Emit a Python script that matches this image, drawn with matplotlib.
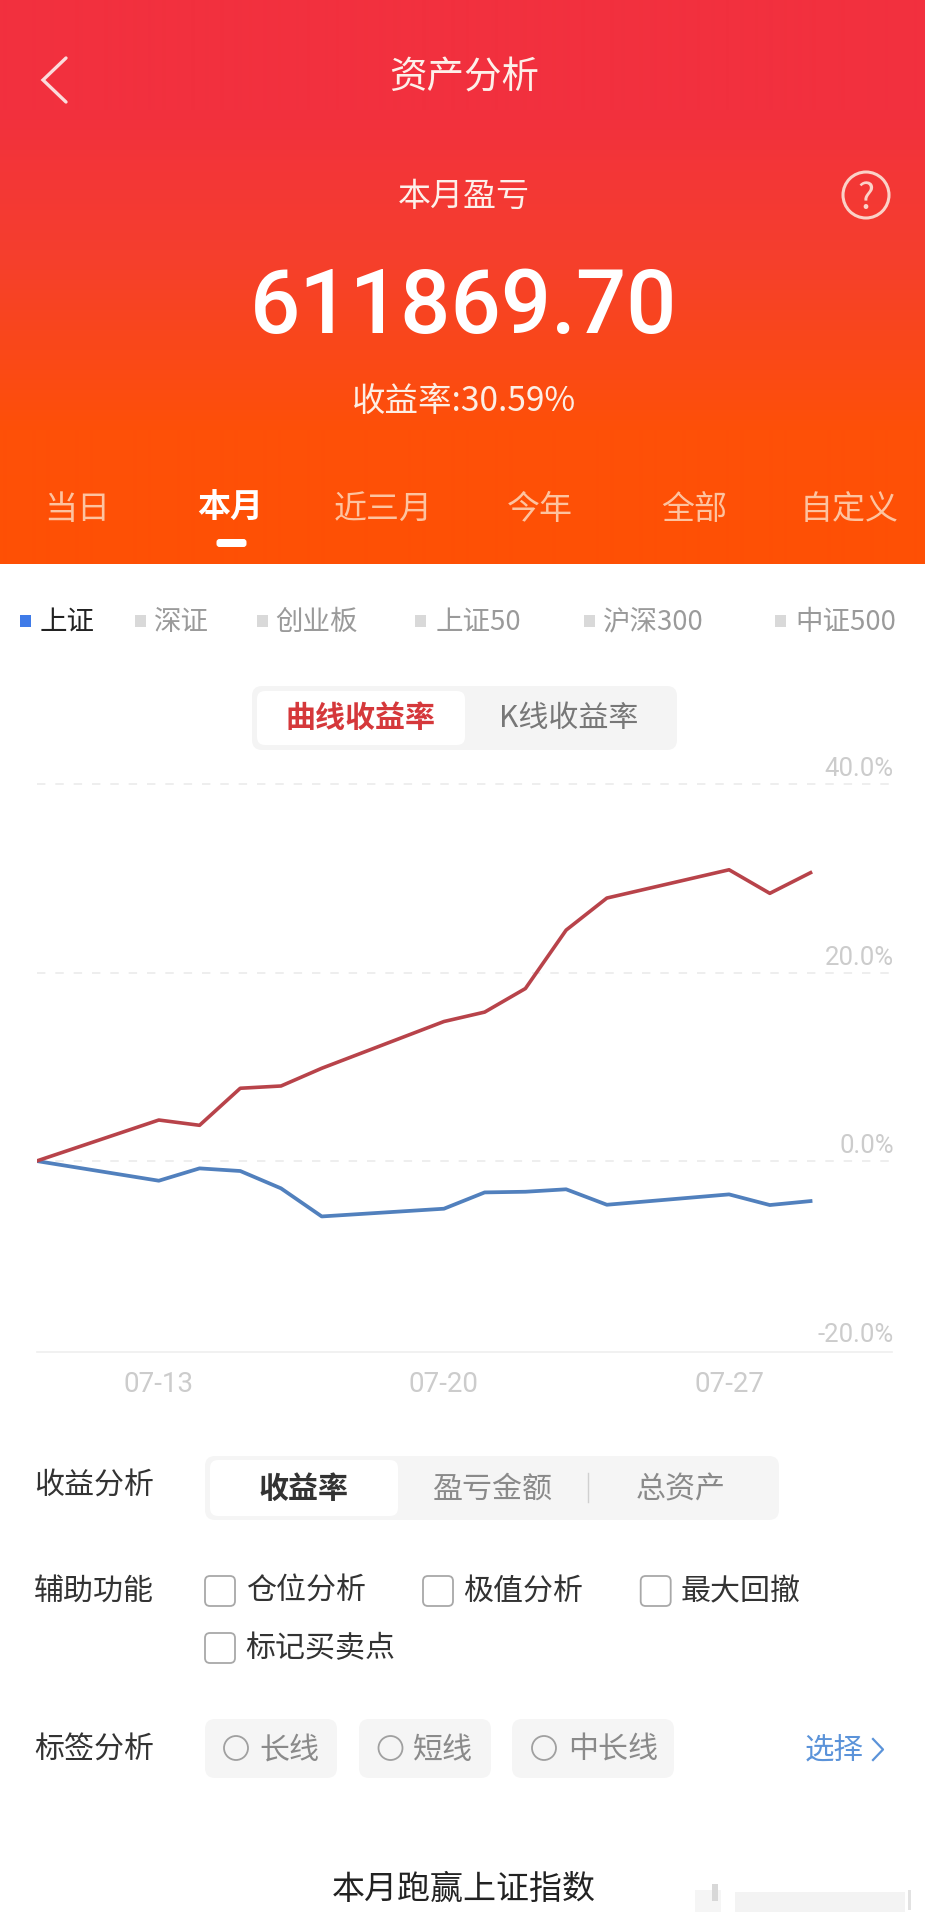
import numpy as np
import matplotlib
matplotlib.use('Agg')
import matplotlib.pyplot as plt
import matplotlib.transforms as mtransforms
from matplotlib.patches import FancyBboxPatch, Circle, Rectangle

plt.rcParams['font.family'] = ['Noto Sans CJK SC', 'DejaVu Sans']

# ========== data ==========
days = [10, 13, 14, 15, 16, 17, 20, 21, 22, 23, 24, 27, 28, 29]
account_pct = [0, 4.35, 3.79, 7.72, 7.96, 9.84, 14.8, 15.8, 18.3, 24.5, 27.9, 30.9, 28.4, 30.59]
index_pct = [0, -2.09, -0.78, -1.06, -2.9, -5.88, -5.06, -3.33, -3.26, -3.0, -4.64, -3.54, -4.67, -4.25]
x_ticks = [13, 20, 27]
x_labels = ['07-13', '07-20', '07-27']
y_ticks = [40, 20, 0, -20]
y_labels = ['40.0%', '20.0%', '0.0%', '-20.0%']

range_tabs = ['当日', '本月', '近三月', '今年', '全部', '自定义']
index_names = ['上证', '深证', '创业板', '上证50', '沪深300', '中证500']
check_names = ['仓位分析', '极值分析', '最大回撤', '标记买卖点']
tag_names = ['长线', '短线', '中长线']

W, H = 925, 1922
fig = plt.figure(figsize=(W / 100, H / 100), dpi=100, facecolor='white')

# ========== page layer, in pixels ==========
ui = fig.add_axes([0, 0, 1, 1], zorder=0)


def box(x0, y0, x1, y1, color, r=8):
    ui.add_patch(FancyBboxPatch((x0, y0), x1 - x0, y1 - y0, boxstyle=f'round,pad=0,rounding_size={r}',
                                fc=color, ec='none'))


def label(x, y, s, px, color='#333333', ha='center', **kw):
    ui.text(x, y, s, fontsize=px * 0.72, color=color, ha=ha, va='center_baseline', **kw)


# header gradient
stops_y = [0, 110, 250, 430, 564]
stops_rgb = np.array([[242, 48, 62], [242, 48, 62], [245, 62, 46], [254, 80, 8], [255, 80, 5]]) / 255
ys = np.arange(564)
grad = np.stack([np.interp(ys, stops_y, stops_rgb[:, i]) for i in range(3)], axis=1)[:, None, :]
ui.imshow(grad, extent=(0, W, 564, 0), aspect='auto', interpolation='bilinear')

ui.plot([66, 43, 66], [58, 80, 102], color='#fbdcdc', lw=2.4, solid_capstyle='round', solid_joinstyle='miter')
label(464, 74, '资产分析', 37.5, '#fdf0ea')
label(464, 192, '本月盈亏', 33, '#fdf0ea')
ui.add_patch(Circle((866, 195), 23, fc='none', ec='#fbd2c8', lw=2.2))
label(866, 195, '?', 36, '#fbd2c8')
label(464, 300, '611869.70', 88.5, 'white', family='Roboto', fontweight='medium')
label(464, 398, '收益率:30.59%', 33.5, '#fdeee4')

tab_x = [76.7, 230, 383.5, 540, 694, 849.6]
for i, name in enumerate(range_tabs):
    if i == 1:
        label(tab_x[i], 505, name, 33, 'white', fontweight='bold')
    else:
        label(tab_x[i], 505, name, 33, '#fdc3a0')
box(216.5, 539, 246.5, 547, 'white', r=3)

# index selector
square_x = [19.5, 134.5, 256.6, 415, 584, 775]
name_x = [40, 153.6, 275, 435.6, 603, 795]
for i, name in enumerate(index_names):
    ui.add_patch(Rectangle((square_x[i], 615), 11, 12, fc='#3f7be8' if i == 0 else '#d9d9d9', ec='none'))
    label(name_x[i], 619, name, 27.5, '#222222' if i == 0 else '#9a9a9a', ha='left')

# chart type toggle
box(252, 686, 677, 750, '#f4f4f4', r=10)
box(257, 691, 465, 745, 'white', r=8)
label(360, 715, '曲线收益率', 30, '#d5383b', fontweight='bold')
label(569, 715, 'K线收益率', 30, '#777777')

# controls
label(94, 1483, '收益分析', 30)
box(205, 1456, 779, 1520, '#f5f5f5', r=10)
box(210, 1460, 398, 1516, 'white', r=8)
label(304, 1486, '收益率', 30, '#333333', fontweight='bold')
label(492.6, 1486, '盈亏金额', 30, '#8a8a8a')
label(681, 1486, '总资产', 30, '#8a8a8a')
ui.plot([587.6, 587.6], [1473, 1502], color='#d0d0d0', lw=1)

label(94, 1588, '辅助功能', 30)
check_x = [205, 423, 640.7, 205]
check_y = [1576, 1576, 1576, 1633]
check_text_x = [245.6, 463, 681, 245.6]
for i, name in enumerate(check_names):
    ui.add_patch(FancyBboxPatch((check_x[i], check_y[i]), 30, 30, boxstyle='round,pad=0,rounding_size=5',
                                fc='white', ec='#a8a8a8', lw=1.3))
    label(check_text_x[i], check_y[i] + 12, name, 30, '#333333', ha='left')

label(94, 1747, '标签分析', 30)
chip_x = [(205, 337), (359, 491), (512, 674)]
radio_x = [236, 390.5, 544]
tag_text_x = [259, 413, 568]
for i, name in enumerate(tag_names):
    box(chip_x[i][0], 1719, chip_x[i][1], 1778, '#f5f5f5', r=10)
    ui.add_patch(Circle((radio_x[i], 1748), 12, fc='none', ec='#a0a0a0', lw=1.3))
    label(tag_text_x[i], 1747, name, 30, '#8a8a8a', ha='left')
label(805, 1747, '选择', 29.5, '#5b93d9', ha='left')
ui.plot([873, 883, 873], [1739, 1749.5, 1760], color='#5b93d9', lw=1.6)

label(464, 1885, '本月跑赢上证指数', 33, '#222222')

# blurred watermark in the corner
ui.add_patch(Rectangle((695, 1890), 26, 22, fc='#f5f5f5', ec='none'))
ui.add_patch(Rectangle((712, 1884), 6, 17, fc='#d8d8d8', ec='none'))
ui.add_patch(Rectangle((735, 1892), 170, 20, fc='#f3f3f3', ec='none'))
ui.add_patch(Rectangle((908, 1890), 3, 20, fc='#e2e2e2', ec='none'))

ui.set_xlim(0, W)
ui.set_ylim(H, 0)
ui.axis('off')

# ========== return chart ==========
left, right, top, bottom = 36.6, 892, 784, 1351.7
ax = fig.add_axes([left / W, 1 - bottom / H, (right - left) / W, (bottom - top) / H], zorder=1)
ax.patch.set_alpha(0)
ax.plot(days, index_pct, color='#5180bd', lw=2.7, solid_joinstyle='round')
ax.plot(days, account_pct, color='#b8434a', lw=2.6, solid_joinstyle='round')
ax.set_xlim(10, 31)
ax.set_ylim(-20.23, 40)

for s in ['top', 'left', 'right']:
    ax.spines[s].set_visible(False)
ax.spines['bottom'].set_color('#efefef')
ax.spines['bottom'].set_linewidth(1.2)
for v in y_ticks[:-1]:
    ax.axhline(v, color='#e9e9e9', lw=1.1, dashes=(5.5, 6.5), zorder=0, clip_on=False)

ax.set_xticks(x_ticks, x_labels)
ax.tick_params(axis='x', length=0, pad=14, labelsize=20, labelcolor='#cccccc')
ax.set_yticks(y_ticks, y_labels)
ax.yaxis.tick_right()
ax.tick_params(axis='y', length=0, pad=0, labelsize=18.5, labelcolor='#cccccc')
for lab in ax.get_yticklabels():
    lab.set_ha('right')
    lab.set_va('bottom')
    lab.set_transform(mtransforms.offset_copy(lab.get_transform(), fig=fig, x=2, y=3, units='dots'))
for lab in ax.get_xticklabels() + ax.get_yticklabels():
    lab.set_family(['Roboto', 'DejaVu Sans'])

fig.savefig('out.png', dpi=100)
